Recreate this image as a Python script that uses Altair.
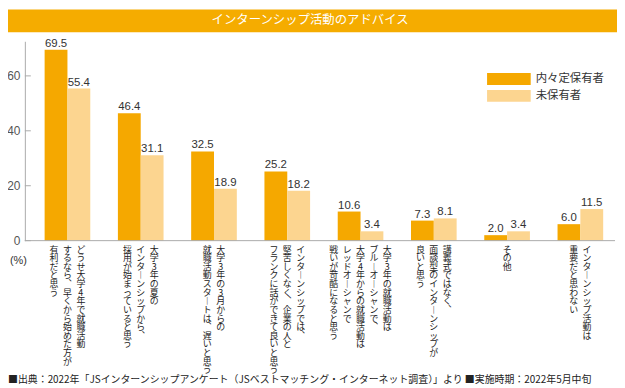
import altair as alt
import pandas as pd

# ---------------- data ----------------
label_lines = [
    ["どうせ大学4年で就職活動", "するなら、早くから始めた方が", "有利だと思う"],
    ["大学3年の夏の", "インターンシップから、", "採用が始まっていると思う"],
    ["大学3年の3月からの", "就職活動スタートは、遅いと思う"],
    ["インターンシップでは、", "堅苦しくなく、企業の人と", "フランクに話ができて良いと思う"],
    ["大学3年の就職活動は", "ブルーオーシャンで、", "大学4年からの就職活動は", "レッドオーシャンで", "戦いが苛酷になると思う"],
    ["講義式ではなく、", "面談型のインターンシップが", "良いと思う"],
    ["その他"],
    ["インターンシップ活動は", "重要だと思わない"],
]
categories = ["".join(l) for l in label_lines]
series = ["内々定保有者", "未保有者"]
holders = [69.5, 46.4, 32.5, 25.2, 10.6, 7.3, 2.0, 6.0]
non_holders = [55.4, 31.1, 18.9, 18.2, 3.4, 8.1, 3.4, 11.5]
y_ticks = [0, 20, 40, 60]
title_text = "インターンシップ活動のアドバイス"
unit_text = "(%)"
source_text = "■出典：2022年「JSインターンシップアンケート（JSベストマッチング・インターネット調査）」より ■実施時期：2022年5月中旬"
colors = ["#F5A800", "#FCD590"]

# ---------------- layout ----------------
W, H = 595, 201
PAD = {"left": 17, "top": 32, "right": 2, "bottom": 147}
X_RANGE = [6, 597]
STEP = (X_RANGE[1] - X_RANGE[0]) / len(categories)
COL_SP = 13.5
Y_MAX = 72.6
JP = "Noto Sans CJK JP"
LAT = "Liberation Sans"
AXIS_GRAY = "#AAAAAA"

rows = []
for c, a, b in zip(categories, holders, non_holders):
    rows.append({"cat": c, "series": series[0], "value": a, "label": f"{a:.1f}"})
    rows.append({"cat": c, "series": series[1], "value": b, "label": f"{b:.1f}"})
bars_df = pd.DataFrame(rows)

vmap = {"ー": "︱", "、": "︑"}
lab_rows = []
for i, lines in enumerate(label_lines):
    n = len(lines)
    for j, line in enumerate(lines):
        lab_rows.append({
            "pos": i + ((n - 1) / 2 - j) * COL_SP / STEP,
            "chars": [vmap.get(ch, ch) for ch in line],
        })

X = alt.X("cat:N", sort=categories,
          scale=alt.Scale(range=X_RANGE, paddingInner=0.377, paddingOuter=0.1885),
          axis=None)
XO = alt.XOffset("series:N", sort=series)
Y = alt.Y("value:Q", scale=alt.Scale(domain=[0, Y_MAX], nice=False),
          axis=alt.Axis(values=y_ticks, ticks=False, labelPadding=5, grid=False,
                        title=None, domainColor=AXIS_GRAY, labelColor="#555555",
                        labelFont=LAT, labelFontSize=12))

bars = alt.Chart(bars_df).mark_bar().encode(
    x=X, xOffset=XO, y=Y,
    color=alt.Color("series:N", sort=series,
                    scale=alt.Scale(domain=series, range=colors), legend=None),
)

values = alt.Chart(bars_df).mark_text(
    baseline="bottom", dy=-1, font=LAT, fontSize=11.5, color="#333333"
).encode(x=X, xOffset=XO, y=Y, text="label:N")

ticks = alt.Chart(pd.DataFrame({"value": y_ticks})).mark_rule(color=AXIS_GRAY).encode(
    y=Y, x=alt.value(0), x2=alt.value(6)
)

xline = alt.Chart(pd.DataFrame({"a": [0]})).mark_rule(color=AXIS_GRAY).encode(
    x=alt.value(0), x2=alt.value(W), y=alt.value(H)
)

cat_labels = alt.Chart(alt.Data(values=lab_rows)).mark_text(
    font=JP, fontSize=9, lineHeight=8.7, baseline="top", align="center", color="#222222"
).encode(
    x=alt.X("pos:Q", scale=alt.Scale(domain=[0, len(categories) - 1],
                                     range=[X_RANGE[0] + STEP / 2, X_RANGE[1] - STEP / 2]),
            axis=None),
    y=alt.value(206),
    text=alt.Text("chars:N"),
)

layers = [bars, values, ticks, xline, cat_labels]

# legend
for i, (s, c) in enumerate(zip(series, colors)):
    d = alt.Data(values=[{"s": s}])
    layers.append(alt.Chart(d).mark_rect(color=c).encode(
        x=alt.value(466), x2=alt.value(510),
        y=alt.value(32 + 17 * i), y2=alt.value(44 + 17 * i)))
    layers.append(alt.Chart(d).mark_text(
        font=JP, fontSize=11.5, align="left", baseline="middle", color="#333333"
    ).encode(x=alt.value(515), y=alt.value(38.5 + 17 * i), text=alt.Text("s:N")))

# title bar
tdata = alt.Data(values=[{"t": title_text}])
layers.append(alt.Chart(tdata).mark_rect(color="#F5AC00").encode(
    x=alt.value(-17), x2=alt.value(W + PAD["right"]), y=alt.value(-32), y2=alt.value(-9)))
layers.append(alt.Chart(tdata).mark_text(
    font=JP, fontSize=12.5, color="white", align="center", baseline="middle"
).encode(x=alt.value(287.5), y=alt.value(-21), text=alt.Text("t:N")))

# unit and footer
layers.append(alt.Chart(alt.Data(values=[{"t": unit_text}])).mark_text(
    font=LAT, fontSize=11, color="#333333", align="left", baseline="middle"
).encode(x=alt.value(-15), y=alt.value(222), text=alt.Text("t:N")))
layers.append(alt.Chart(alt.Data(values=[{"t": source_text}])).mark_text(
    font=JP, fontSize=10, color="#222222", align="left", baseline="middle"
).encode(x=alt.value(-17), y=alt.value(342), text=alt.Text("t:N")))

chart = alt.layer(*layers).resolve_scale(x="independent").properties(
    width=W, height=H, padding=PAD,
    autosize=alt.AutoSizeParams(type="none"),
).configure_view(stroke=None)

chart.save("out.html", embed_options={"renderer": "svg", "actions": False})
